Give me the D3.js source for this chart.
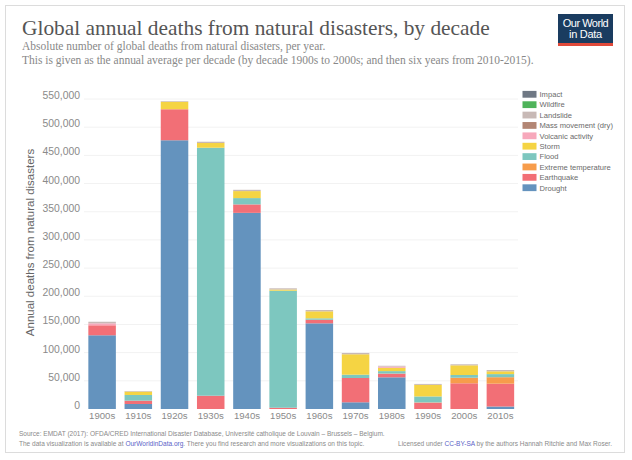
<!DOCTYPE html>
<html><head><meta charset="utf-8">
<script src="https://cdn.jsdelivr.net/npm/d3@7"></script>
<style>body{margin:0;background:#fff}svg{display:block}</style>
</head><body><svg id="c" width="632" height="460"></svg>
<script>
const decades = ["1900s","1910s","1920s","1930s","1940s","1950s","1960s","1970s","1980s","1990s","2000s","2010s"];
const seriesNames = ["Drought","Earthquake","Extreme temperature","Flood","Storm","Volcanic activity","Mass movement (dry)","Landslide","Wildfire","Impact"];
const drought     = [130800, 8900, 476800, 0, 348000, 0, 152000, 11900, 56200, 0, 0, 4400];
const earthquake  = [17700, 5900, 55000, 23600, 15000, 2300, 6400, 43100, 6400, 11200, 45600, 40500];
const extremeTemp = [0, 0, 0, 0, 0, 0, 0, 0, 300, 500, 9900, 11500];
const flood       = [0, 10100, 0, 440000, 11200, 207600, 2500, 5900, 4300, 10600, 4800, 5500];
const storm       = [0, 6000, 13200, 8300, 12400, 2100, 12400, 36200, 5900, 20500, 17200, 5000];
const volcanic    = [3500, 0, 0, 0, 0, 0, 0, 0, 2300, 0, 0, 0];
const massMove    = [0, 0, 0, 0, 0, 0, 0, 0, 0, 0, 0, 0];
const landslide   = [2800, 1000, 1200, 2300, 2300, 2100, 2300, 2300, 1300, 1700, 1800, 2300];
const wildfire    = [0, 0, 0, 0, 0, 0, 0, 0, 0, 0, 0, 0];
const impact      = [0, 0, 0, 0, 0, 0, 0, 0, 0, 0, 0, 0];
const seriesColors = ["#6493be","#f26f76","#f79c4b","#7dc7bf","#f5d443","#f7a8bb","#b38674","#c8b9b6","#4fb35a","#6f7884"];
const yTicks = [0,50000,100000,150000,200000,250000,300000,350000,400000,450000,500000,550000];

const seriesValues = [drought, earthquake, extremeTemp, flood, storm, volcanic, massMove, landslide, wildfire, impact];
const rows = decades.map((d,i)=>{const r={decade:d}; seriesNames.forEach((s,j)=>r[s]=seriesValues[j][i]); return r;});
const stacked = d3.stack().keys(seriesNames)(rows);

const svg = d3.select("#c");
svg.append("rect").attr("x",5.5).attr("y",5.5).attr("width",619).attr("height",447)
  .attr("fill","#fff").attr("stroke","#dcdcdc");

function fit(sel, target){
  const fs = parseFloat(sel.attr("font-size"));
  const w = sel.node().getComputedTextLength();
  sel.attr("font-size", (fs*target/w).toFixed(2));
}

// Title
const title = svg.append("text").attr("x",22).attr("y",35).attr("font-family","Liberation Serif, serif")
  .attr("font-size",24).attr("fill","#555").text("Global annual deaths from natural disasters, by decade");
fit(title, 468);
const sub1 = svg.append("text").attr("x",22).attr("y",50).attr("font-family","Liberation Serif, serif")
  .attr("font-size",13).attr("fill","#888").text("Absolute number of global deaths from natural disasters, per year.");
const sub2 = svg.append("text").attr("x",22).attr("y",64).attr("font-family","Liberation Serif, serif")
  .attr("font-size",13).attr("fill","#888").text("This is given as the annual average per decade (by decade 1900s to 2000s; and then six years from 2010-2015).");
fit(sub2, 512);
sub1.attr("font-size", sub2.attr("font-size"));

// Logo
const logo = svg.append("g");
logo.append("rect").attr("x",558).attr("y",14).attr("width",55).attr("height",32).attr("fill","#1a3c60");
logo.append("rect").attr("x",558).attr("y",43).attr("width",55).attr("height",3).attr("fill","#e0493a");
logo.append("text").attr("x",585.5).attr("y",26.5).attr("text-anchor","middle").attr("font-family","Liberation Sans, Arial, sans-serif")
  .attr("font-size",11).attr("letter-spacing",-0.5).attr("fill","#fff").text("Our World");
logo.append("text").attr("x",585.5).attr("y",38).attr("text-anchor","middle").attr("font-family","Liberation Sans, Arial, sans-serif")
  .attr("font-size",11).attr("letter-spacing",-0.3).attr("fill","#fff").text("in Data");

// Scales
const x = d3.scaleBand().domain(decades).range([84, 518.5]).paddingInner(0.24).paddingOuter(0.12);
const y = d3.scaleLinear().domain([0,550000]).range([409, 99]);

// gridlines
svg.append("g").selectAll("line").data(yTicks.slice(1)).join("line")
  .attr("x1",84).attr("x2",518).attr("y1",d=>y(d)).attr("y2",d=>y(d))
  .attr("stroke","#f2f2f2").attr("stroke-width",1);

// y axis labels
const yAxis = svg.append("g").attr("transform","translate(80,0)")
  .call(d3.axisLeft(y).tickValues(yTicks).tickFormat(d3.format(",")).tickSize(0).tickPadding(0));
yAxis.select(".domain").remove();
yAxis.selectAll("text").attr("font-family","Liberation Sans, Arial, sans-serif").attr("font-size",10.4)
  .attr("fill","#8a8a8a").attr("dy","-0.05em");

// Bars
svg.append("g").selectAll("g").data(stacked).join("g").attr("fill",(d,i)=>seriesColors[i])
  .selectAll("rect").data(d=>d).join("rect")
  .attr("x",d=>x(d.data.decade)).attr("width",x.bandwidth())
  .attr("y",d=>y(d[1])).attr("height",d=>Math.max(0,y(d[0])-y(d[1])));

// x axis labels
const xAxis = svg.append("g").attr("transform","translate(0,409)")
  .call(d3.axisBottom(x).tickSize(0).tickPadding(3));
xAxis.select(".domain").remove();
xAxis.selectAll("text").attr("font-family","Liberation Sans, Arial, sans-serif").attr("font-size",9.6).attr("fill","#8a8a8a");

// y axis title
svg.append("text").attr("transform","translate(34,242.5) rotate(-90)").attr("text-anchor","middle")
  .attr("font-family","Liberation Sans, Arial, sans-serif").attr("font-size",11.5).attr("fill","#666")
  .text("Annual deaths from natural disasters");

// Legend
const legNames = seriesNames.slice().reverse();
const legColors = seriesColors.slice().reverse();
const leg = svg.append("g").selectAll("g").data(legNames).join("g")
  .attr("transform",(d,i)=>`translate(522.5,${94.3+i*10.38})`);
leg.append("rect").attr("x",0).attr("y",-3.4).attr("width",14).attr("height",6.8).attr("fill",(d,i)=>legColors[i]);
leg.append("text").attr("x",17).attr("y",2.8).attr("font-family","Liberation Sans, Arial, sans-serif")
  .attr("font-size",7.6).attr("fill","#6a6a6a").text(d=>d);

// Footer
const f1 = svg.append("text").attr("x",19).attr("y",435.5).attr("font-family","Liberation Sans, Arial, sans-serif")
  .attr("font-size",7).attr("fill","#8a8a8a")
  .text("Source: EMDAT (2017): OFDA/CRED International Disaster Database, Université catholique de Louvain – Brussels – Belgium.");
fit(f1, 366);
const fs = f1.attr("font-size");
const f2 = svg.append("text").attr("x",19).attr("y",446).attr("font-family","Liberation Sans, Arial, sans-serif")
  .attr("font-size",fs).attr("fill","#8a8a8a");
f2.append("tspan").text("The data visualization is available at ");
f2.append("tspan").attr("fill","#5b5fc7").text("OurWorldinData.org");
f2.append("tspan").text(". There you find research and more visualizations on this topic.");
const f3 = svg.append("text").attr("x",612).attr("y",446).attr("text-anchor","end").attr("font-family","Liberation Sans, Arial, sans-serif")
  .attr("font-size",fs).attr("fill","#8a8a8a");
f3.append("tspan").text("Licensed under ");
f3.append("tspan").attr("fill","#5b5fc7").text("CC-BY-SA");
f3.append("tspan").text(" by the authors Hannah Ritchie and Max Roser.");
</script></body></html>
